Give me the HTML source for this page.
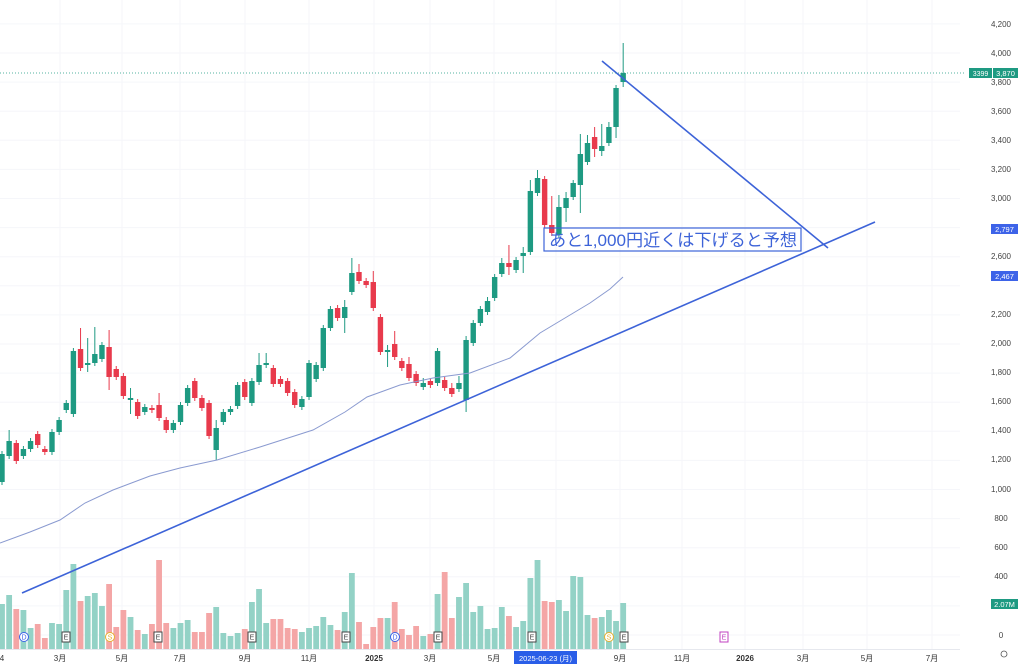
<!DOCTYPE html>
<html><head><meta charset="utf-8"><style>
body{margin:0;background:#fff;width:1024px;height:669px;overflow:hidden;font-family:"Liberation Sans","Noto Sans CJK JP",sans-serif}
svg{display:block}
.ax{font-size:8px;fill:#444;text-anchor:middle}
.bt{font-size:8px;fill:#333;text-anchor:middle}
</style></head><body>
<svg id="s" width="1024" height="669" viewBox="0 0 1024 669" xmlns="http://www.w3.org/2000/svg">
<g id="grid" stroke="#f5f6fa" stroke-width="1"></g>
<g id="vol"></g>
<g id="cdl"></g>
<polyline fill="none" stroke="#8a9ad0" stroke-width="1" points="0,543 30,532 60,520 85,503 113,490 150,476 180,468 217,460 260,447 313,430 345,412 367,397 400,385 433,378 470,373 510,358 540,333 565,318 590,303 610,289 623,277"/>
<line x1="22" y1="593" x2="875" y2="222" stroke="#3d63d8" stroke-width="1.6"/>
<line x1="602" y1="61" x2="828" y2="248" stroke="#3d63d8" stroke-width="1.6"/>
<line x1="0" y1="73" x2="965" y2="73" stroke="#1e9a82" stroke-width="0.8" stroke-dasharray="1,2"/>
<rect x="544" y="228" width="257" height="23" fill="none" stroke="#3d63d8" stroke-width="1.2"/>
<text x="549" y="246" font-size="16.8" fill="#3d63d8" textLength="248" lengthAdjust="spacingAndGlyphs" font-family="Liberation Sans,Noto Sans CJK JP,sans-serif">あと1,000円近くは下げると予想</text>
<g class="ax">
<text x="1001" y="27">4,200</text><text x="1001" y="56">4,000</text><text x="1001" y="85">3,800</text><text x="1001" y="114">3,600</text><text x="1001" y="143">3,400</text><text x="1001" y="172">3,200</text><text x="1001" y="201">3,000</text><text x="1001" y="259">2,600</text><text x="1001" y="317">2,200</text><text x="1001" y="346">2,000</text><text x="1001" y="375">1,800</text><text x="1001" y="404">1,600</text><text x="1001" y="433">1,400</text><text x="1001" y="462">1,200</text><text x="1001" y="492">1,000</text><text x="1001" y="521">800</text><text x="1001" y="550">600</text><text x="1001" y="579">400</text><text x="1001" y="638">0</text>
</g>
<rect x="969" y="68" width="23" height="10" fill="#1e9a82"/><text x="980.5" y="76" font-size="7" fill="#fff" text-anchor="middle">3399</text>
<rect x="993" y="68" width="25" height="10" fill="#1e9a82"/><text x="1005.5" y="76" font-size="7.5" fill="#fff" text-anchor="middle">3,870</text>
<rect x="991" y="224" width="27" height="10" fill="#3d63e8"/><text x="1004.5" y="232" font-size="7.5" fill="#fff" text-anchor="middle">2,797</text>
<rect x="991" y="271" width="27" height="10" fill="#3d63e8"/><text x="1004.5" y="279" font-size="7.5" fill="#fff" text-anchor="middle">2,467</text>
<rect x="991" y="599" width="27" height="10" fill="#1e9a82"/><text x="1004.5" y="607" font-size="7.5" fill="#fff" text-anchor="middle">2.07M</text>
<circle cx="1004" cy="654" r="3" fill="none" stroke="#555" stroke-width="0.8"/>
<line x1="0" y1="649.5" x2="960" y2="649.5" stroke="#e6e8ee"/>
<g class="bt">
<text x="2" y="661">4</text><text x="60" y="661">3月</text><text x="122" y="661">5月</text><text x="180" y="661">7月</text><text x="245" y="661">9月</text><text x="309" y="661">11月</text><text x="374" y="661" font-weight="bold">2025</text><text x="430" y="661">3月</text><text x="494" y="661">5月</text><text x="620" y="661">9月</text><text x="682" y="661">11月</text><text x="745" y="661" font-weight="bold">2026</text><text x="803" y="661">3月</text><text x="867" y="661">5月</text><text x="932" y="661">7月</text>
</g>
<rect x="514" y="651" width="63" height="13" fill="#2a5ee8"/><text x="545.5" y="661" font-size="7.5" fill="#fff" text-anchor="middle">2025-06-23 (月)</text>
<g id="ev" font-size="7" text-anchor="middle"></g>
</svg>
<script>
var NS="http://www.w3.org/2000/svg";
function el(p,t,a){var e=document.createElementNS(NS,t);for(var k in a)e.setAttribute(k,a[k]);p.appendChild(e);return e;}
var g=document.getElementById('grid');
for(var p=0;p<=4200;p+=200){var y=635-p*0.1455;el(g,'line',{x1:0,y1:y,x2:960,y2:y});}
[60,122,180,245,309,374,430,494,556,620,682,745,803,867,932].forEach(function(x){el(g,'line',{x1:x,y1:0,x2:x,y2:649});});
var C=[[454,482,'g'],[441,456,'g',430],[443,461,'r'],[449,456,'g'],[441,449,'g'],[434,445,'r'],[449,452,'r'],[432,452,'g'],[420,432,'g'],[403,410,'g'],[351,414,'g'],[349,368,'r',328],[363,365,'g',338,372],[354,363,'g',327],[345,359,'g'],[347,377,'r',330,390],[369,377,'r'],[376,396,'r'],[398,400,'g',388,414],[402,416,'r'],[407,412,'g'],[408,410,'r'],[405,418,'r',393],[420,430,'r'],[423,430,'g'],[405,422,'g'],[388,403,'g'],[381,398,'r'],[398,408,'r'],[403,436,'r'],[428,450,'g',420,460],[412,422,'g'],[409,412,'g'],[385,406,'g'],[382,397,'r'],[381,403,'g'],[365,382,'g',353],[363,365,'g',353],[368,384,'r'],[379,384,'r'],[381,393,'r'],[392,405,'r'],[399,407,'g'],[363,397,'g'],[365,379,'g'],[328,368,'g'],[309,328,'g'],[308,318,'r'],[307,318,'g',300,333],[273,292,'g',258],[272,281,'r',264],[281,285,'r'],[282,308,'r',271],[317,352,'r'],[350,352,'g',345,367],[344,357,'r',331],[361,368,'r'],[364,378,'r',357],[374,383,'r'],[383,387,'g',378],[381,385,'r'],[351,383,'g'],[380,388,'r'],[388,394,'r',383],[383,389,'g',376],[340,400,'g',336,412],[323,343,'g'],[309,323,'g'],[301,312,'g',297],[277,298,'g'],[263,274,'g',258],[263,267,'r',245,275],[260,270,'g'],[253,256,'g',247,273],[191,252,'g',180],[178,193,'g',170],[179,225,'r',176],[225,233,'r',196],[207,235,'g',195],[198,208,'g',192,222],[183,197,'g'],[154,185,'g',134,213],[143,162,'g',135],[137,149,'r',127,157],[146,151,'g',124,156],[127,143,'g',122],[88,127,'g',85,138],[73,82,'g',43,87]];
var V=[604,595,609,610,628,624,638,623,624,590,564,601,596,593,606,584,627,610,617,630,634,624,560,623,628,623,620,632,632,613,607,633,636,633,629,602,589,623,619,619,628,629,632,628,626,617,625,630,612,573,622,644,627,618,618,602,629,635,626,636,634,594,572,618,597,583,612,606,629,628,607,616,627,621,578,560,601,602,600,611,576,577,615,618,617,610,621,603];
var cg=document.getElementById('cdl'),vg=document.getElementById('vol');
C.forEach(function(c,i){var x=2+i*7.14,col=c[2]=='g'?'#1e9a82':'#e83a4c';
var hi=c[3]||c[0]-3,lo=c[4]||c[1]+3;
el(cg,'line',{x1:x,y1:hi,x2:x,y2:lo,stroke:col,'stroke-width':1});
el(cg,'rect',{x:x-2.7,y:c[0],width:5.4,height:Math.max(1.5,c[1]-c[0]),fill:col});
var vt=V[i];el(vg,'rect',{x:x-2.9,y:vt,width:5.8,height:649-vt,fill:c[2]=='g'?'#93d2c6':'#f4a6a6'});
});
var ev=document.getElementById('ev');
function circ(x,c,t){el(ev,'circle',{cx:x,cy:637,r:4.5,fill:'#fff',stroke:c,'stroke-width':1});var tt=el(ev,'text',{x:x,y:639.5,fill:c});tt.textContent=t;}
function box(x,c){el(ev,'rect',{x:x-4,y:632,width:8,height:10,fill:'#fff',stroke:c,'stroke-width':1});var tt=el(ev,'text',{x:x,y:639.5,fill:c});tt.textContent='E';}
circ(24,'#3d63e8','D');circ(395,'#3d63e8','D');circ(110,'#e8b030','S');circ(609,'#e8b030','S');
[66,158,252,346,438,532,624].forEach(function(x){box(x,'#444');});box(724,'#c040c0');
</script>
</body></html>
